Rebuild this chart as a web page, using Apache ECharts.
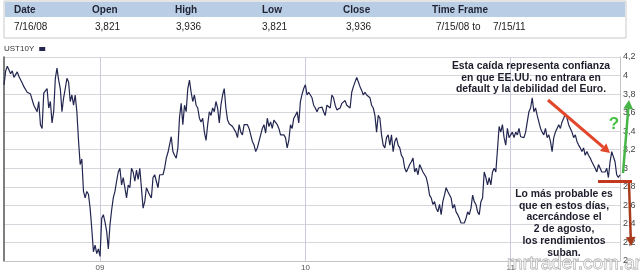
<!DOCTYPE html>
<html><head><meta charset="utf-8">
<script src="https://cdn.jsdelivr.net/npm/echarts@6/dist/echarts.min.js"></script>
<style>html,body{margin:0;padding:0;background:#fff}#c{width:640px;height:272px}</style>
</head><body><div id="c"></div>
<script>
const seriesName = 'UST10Y';
const startDateUTC = Date.UTC(2008, 6, 15);
const endDateUTC = Date.UTC(2011, 6, 15);
const yields = [
3.90,4.05,4.10,4.08,4.02,4.05,3.98,4.00,4.04,3.99,3.97,3.92,3.88,3.86,3.82,3.84,3.80,3.79,3.68,3.66,
3.61,3.72,3.47,3.43,3.81,3.82,3.86,3.65,3.72,3.49,3.61,3.97,4.08,3.95,3.86,3.61,3.76,3.86,3.97,3.93,
3.72,3.79,3.68,3.79,3.61,3.30,3.04,3.10,2.75,2.68,2.75,2.72,2.57,2.35,2.10,2.17,2.08,2.13,2.05,2.46,
2.50,2.42,2.32,2.13,2.39,2.55,2.68,2.75,2.86,2.96,3.00,2.82,2.90,
2.90,2.68,2.82,2.79,3.00,2.96,2.86,2.98,2.88,3.00,3.02,2.57,2.64,2.79,2.75,2.71,2.68,2.90,2.93,2.86,
2.79,2.93,2.95,2.93,3.00,3.11,3.17,3.18,3.34,3.18,3.14,3.11,3.22,3.55,3.70,3.47,3.68,3.61,3.86,3.95,
3.82,3.72,3.79,3.68,3.65,3.54,3.50,3.54,3.39,3.30,3.47,3.61,3.57,3.65,3.61,3.72,3.65,3.49,3.68,3.79,
3.86,3.65,3.52,3.48,3.46,3.45,3.43,3.39,3.33,3.47,3.39,3.36,3.47,3.49,3.47,
3.43,3.36,3.29,3.25,3.18,3.22,3.29,3.36,3.43,3.47,3.38,3.54,3.45,3.50,3.43,3.52,3.50,3.47,3.43,3.36,
3.36,3.36,3.33,3.22,3.30,3.47,3.43,3.54,3.57,3.61,3.49,3.72,3.80,3.86,3.90,3.79,3.82,3.79,3.76,3.68,
3.65,3.61,3.65,3.63,3.66,3.61,3.57,3.68,3.70,3.65,3.79,3.76,3.68,3.63,3.61,3.65,3.70,3.72,3.73,3.68,
3.66,3.65,3.82,3.88,3.90,3.98,3.93,3.88,3.84,3.79,3.82,3.79,3.81,3.76,3.68,
3.65,3.57,3.39,3.57,3.54,3.36,3.25,3.22,3.33,3.36,3.25,3.36,3.18,3.29,3.33,3.25,3.22,3.14,3.11,3.00,
2.96,2.96,3.04,3.07,3.11,2.96,3.00,2.93,3.04,3.06,2.96,2.93,2.90,2.82,2.71,2.68,2.61,2.64,2.57,2.53,
2.61,2.50,2.64,2.71,2.79,2.75,2.75,2.68,2.57,2.61,2.53,2.50,2.46,2.41,2.39,2.41,2.46,2.53,2.50,2.57,
2.71,2.64,2.61,2.53,2.50,2.64,2.68,2.96,2.90,2.82,2.90,2.82,2.96,3.00,2.96,
3.20,3.45,3.39,3.47,3.33,3.25,3.43,3.33,3.36,3.39,3.33,3.39,3.36,3.43,3.34,3.36,3.33,3.39,3.50,3.61,
3.65,3.76,3.61,3.65,3.57,3.50,3.43,3.39,3.36,3.43,3.33,3.36,3.29,3.18,3.33,3.39,3.43,3.47,3.43,3.50,
3.54,3.59,3.54,3.47,3.43,3.39,3.33,3.36,3.29,3.25,3.22,3.18,3.22,3.14,3.18,3.14,3.11,3.07,3.07,3.00,
2.96,3.04,3.00,2.96,2.98,2.96,3.00,2.90,3.07,3.18,3.17,3.07,2.93,2.90,2.93
];
const yMin = 2, yMax = 4.2, yStep = 0.2;
const headerLabels = ['Date', 'Open', 'High', 'Low', 'Close', 'Time Frame'];
const headerValues = ['7/16/08', '3,821', '3,936', '3,821', '3,936', '7/15/08 to', '7/15/11'];
const noteTop = ['Esta caída representa confianza', 'en que EE.UU. no entrara en', 'default y la debilidad del Euro.'];
const noteBottom = ['Lo más probable es', 'que en estos días,', 'acercándose el', '2 de agosto,', 'los rendimientos', 'suban.'];
const questionMark = '?';
const watermark = 'mrtrader.com.ar';

const n = yields.length;
const categories = yields.map((_, i) => new Date(startDateUTC + (endDateUTC - startDateUTC) * i / (n - 1)).toISOString().slice(0, 10));
const isYearStart = (i) => i > 0 && categories[i].slice(0, 4) !== categories[i - 1].slice(0, 4);

const FONT = '"Liberation Sans", Arial, sans-serif';
const headerX = [14, 92, 175, 262, 343, 432];
const valueX = [14, 95, 176, 262, 346, 436, 493];

function arrow(x1, y1, x2, y2, color, w, head) {
  const ang = Math.atan2(y2 - y1, x2 - x1);
  const hl = head, hw = head * 0.55;
  const bx = x2 - hl * Math.cos(ang), by = y2 - hl * Math.sin(ang);
  const px = -Math.sin(ang) * hw, py = Math.cos(ang) * hw;
  return [
    { type: 'line', shape: { x1, y1, x2: bx, y2: by }, style: { stroke: color, lineWidth: w }, z: 100 },
    { type: 'polygon', shape: { points: [[x2, y2], [bx + px, by + py], [bx - px, by - py]] }, style: { fill: color }, z: 100 }
  ];
}

const graphics = [];
// header table
graphics.push({ type: 'rect', shape: { x: 4, y: 1, width: 622, height: 37 }, style: { fill: '#fff', stroke: '#c9c9c9', lineWidth: 1 }, z: 1 });
graphics.push({ type: 'rect', shape: { x: 5, y: 2, width: 620, height: 15 }, style: { fill: '#b9cde5' }, z: 2 });
headerLabels.forEach((t, i) => graphics.push({ type: 'text', x: headerX[i], y: 10, style: { text: t, font: 'bold 10px ' + FONT, fill: '#1f2333', textVerticalAlign: 'middle' }, z: 3 }));
headerValues.forEach((t, i) => graphics.push({ type: 'text', x: valueX[i], y: 27, style: { text: t, font: '10px ' + FONT, fill: '#222', textVerticalAlign: 'middle' }, z: 3 }));
// notes
noteTop.forEach((t, i) => graphics.push({ type: 'text', x: 531, y: 66 + i * 11.8, style: { text: t, font: 'bold 10.4px ' + FONT, fill: '#1d1d2b', textAlign: 'center', textVerticalAlign: 'middle' }, z: 100 }));
noteBottom.forEach((t, i) => graphics.push({ type: 'text', x: 564, y: 194 + i * 11.8, style: { text: t, font: 'bold 10.4px ' + FONT, fill: '#1d1d2b', textAlign: 'center', textVerticalAlign: 'middle' }, z: 100 }));
graphics.push(...arrow(548, 100, 610, 153, '#e2472c', 3, 9));
graphics.push(...arrow(623, 173, 629, 100, '#47b548', 2.5, 9));
graphics.push(...arrow(629, 183, 631, 246, '#a83a1c', 2.5, 9));
graphics.push({ type: 'line', shape: { x1: 598, y1: 181.5, x2: 632, y2: 181.5 }, style: { stroke: '#c0391e', lineWidth: 3 }, z: 100 });
graphics.push({ type: 'text', x: 614, y: 124, style: { text: questionMark, font: 'bold 17px ' + FONT, fill: '#46c043', textAlign: 'center', textVerticalAlign: 'middle' }, z: 100 });
graphics.push({ type: 'text', x: 574, y: 264, style: { text: watermark, font: '19px ' + FONT, fill: 'rgba(255,255,255,0.6)', stroke: '#9a9a9a', lineWidth: 0.8, textAlign: 'center', textVerticalAlign: 'middle' }, z: 110 });

const chart = echarts.init(document.getElementById('c'), null, { renderer: 'canvas' });
chart.setOption({
  animation: false,
  backgroundColor: '#fff',
  textStyle: { fontFamily: FONT },
  legend: {
    data: [seriesName], left: 4, top: 45, align: 'right', itemWidth: 6, itemHeight: 4, itemGap: 4,
    icon: 'rect', textStyle: { fontSize: 8, color: '#333', padding: [0, 0, 0, 0] }, padding: 0
  },
  grid: { left: 4, right: 20, top: 57, bottom: 11, containLabel: false },
  xAxis: {
    type: 'category', data: categories, boundaryGap: false,
    axisLine: { show: true, lineStyle: { color: '#c4c4c4', width: 1 } },
    axisTick: { show: false },
    axisLabel: { interval: (i) => isYearStart(i), formatter: (v) => v.slice(2, 4), fontSize: 8, color: '#555', margin: 3 },
    splitLine: { show: true, interval: (i) => isYearStart(i), lineStyle: { color: '#c9cce0', width: 1 } }
  },
  yAxis: [{
    type: 'value', position: 'right', min: yMin, max: yMax, interval: yStep,
    axisLine: { show: true, lineStyle: { color: '#c4c4c4' } },
    axisTick: { show: false },
    axisLabel: { fontSize: 9, color: '#444', margin: 3, formatter: (v) => String(Math.round(v * 10) / 10).replace('.', ',') },
    splitLine: { show: true, lineStyle: { color: '#d6d6dc', width: 1.2 } }
  }, {
    type: 'value', position: 'left', min: yMin, max: yMax, interval: yStep,
    axisLine: { show: true, lineStyle: { color: '#555', width: 1.5 } },
    axisTick: { show: false }, axisLabel: { show: false }, splitLine: { show: false }
  }],
  series: [{
    name: seriesName, type: 'line', data: yields, symbol: 'none',
    lineStyle: { color: '#23264f', width: 1.2 }, itemStyle: { color: '#23264f' }
  }],
  graphic: graphics
});
</script>
</body></html>
